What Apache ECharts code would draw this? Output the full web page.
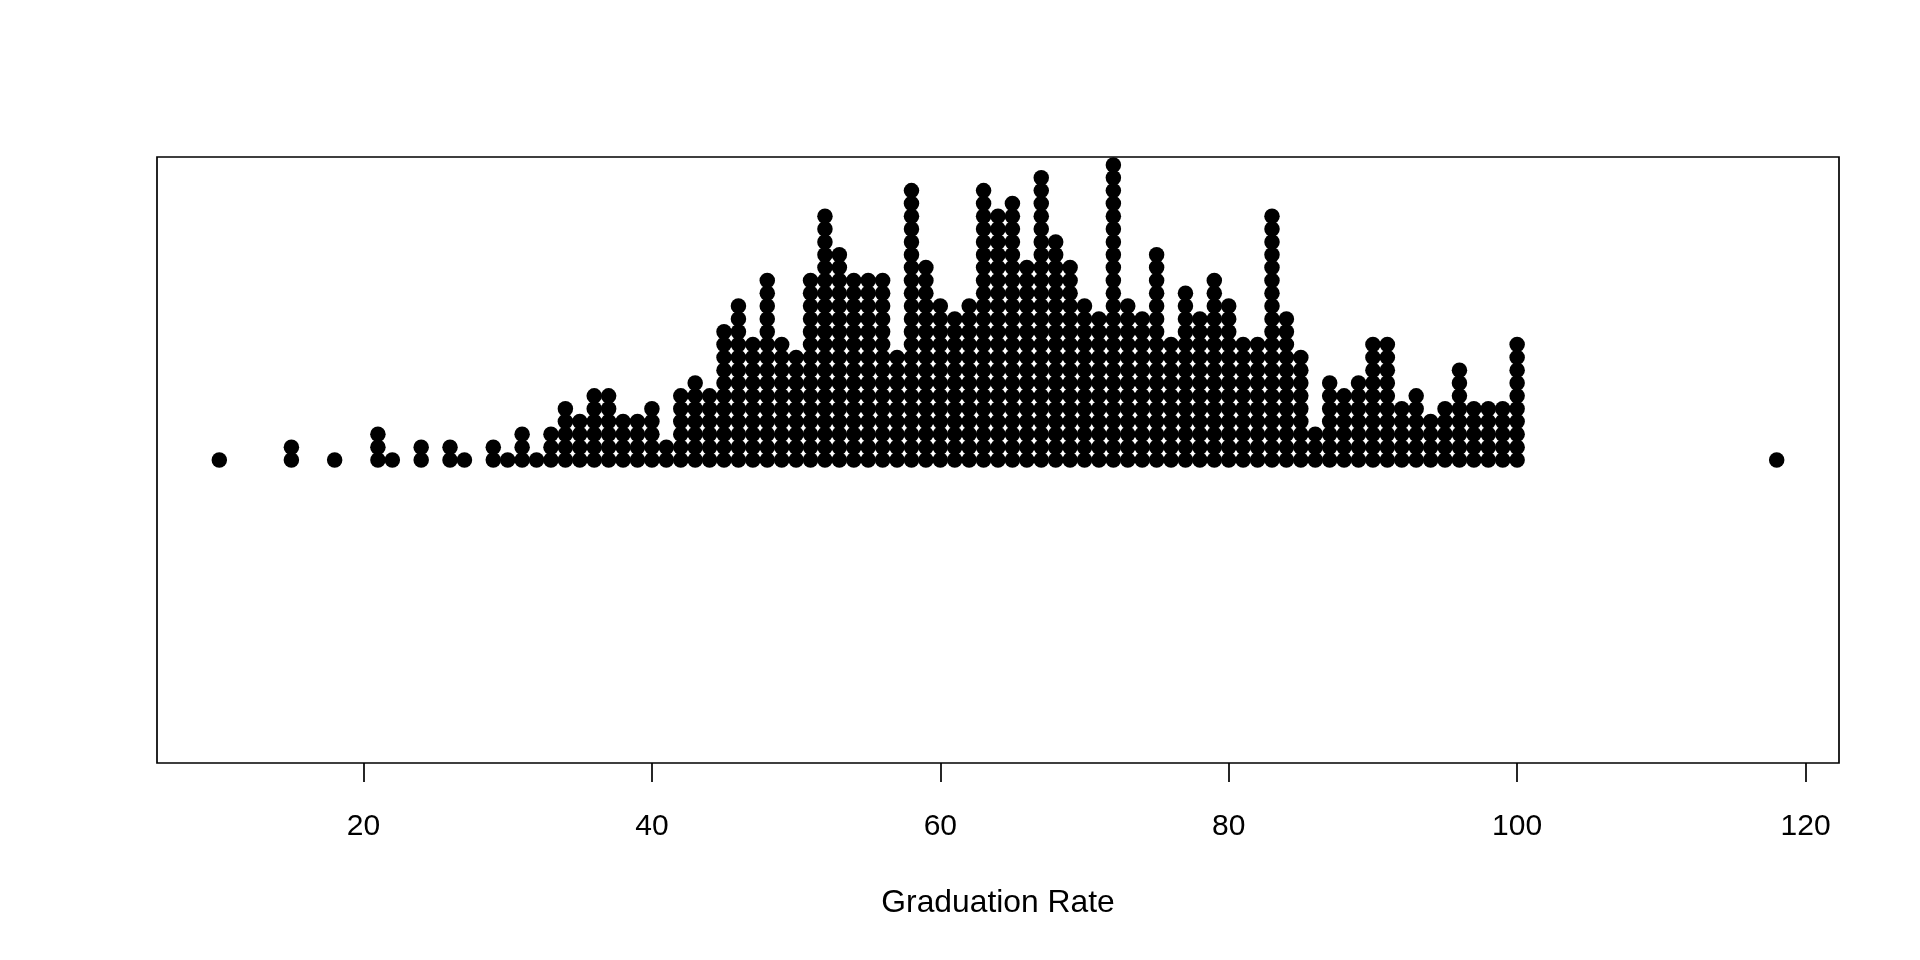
<!DOCTYPE html>
<html>
<head>
<meta charset="utf-8">
<title>Graduation Rate</title>
<script src="https://cdn.jsdelivr.net/npm/echarts@6/dist/echarts.min.js"></script>
<style>
  html, body { margin: 0; padding: 0; background: #fff; }
  #chart { width: 1920px; height: 960px; }
</style>
</head>
<body>
<div id="chart"></div>
<script>
// graduation rate values and how many colleges sit on each one (stacked strip chart)
var rates  = [10, 15, 18, 21, 22, 24, 26, 27, 29, 30, 31, 32, 33, 34, 35, 36, 37, 38, 39, 40,
              41, 42, 43, 44, 45, 46, 47, 48, 49, 50, 51, 52, 53, 54, 55, 56, 57, 58, 59, 60,
              61, 62, 63, 64, 65, 66, 67, 68, 69, 70, 71, 72, 73, 74, 75, 76, 77, 78, 79, 80,
              81, 82, 83, 84, 85, 86, 87, 88, 89, 90, 91, 92, 93, 94, 95, 96, 97, 98, 99, 100,
              118];
var counts = [1, 2, 1, 3, 1, 2, 2, 1, 2, 1, 3, 1, 3, 5, 4, 6, 6, 4, 4, 5,
              2, 6, 7, 6, 11, 13, 10, 15, 10, 9, 15, 20, 17, 15, 15, 15, 9, 22, 16, 13,
              12, 13, 22, 20, 21, 16, 23, 18, 16, 13, 12, 24, 13, 12, 17, 10, 14, 12, 15, 13,
              10, 10, 20, 12, 9, 3, 7, 6, 7, 10, 10, 5, 6, 4, 5, 8, 5, 5, 5, 10,
              1];
var tickValues = [20, 40, 60, 80, 100, 120];

// one point per college, stacked upward from the baseline
var points = [];
for (var i = 0; i < rates.length; i++) {
  for (var k = 0; k < counts[i]; k++) {
    points.push([rates[i], k]);
  }
}

// R pads the data range by 4% on each side
var xPad = (118 - 10) * 0.04;
var yHalf = 23.62; // stack rows from baseline to the box edge

var chart = echarts.init(document.getElementById('chart'));
chart.setOption({
  animation: false,
  backgroundColor: '#ffffff',
  textStyle: { fontFamily: 'Liberation Sans, Arial, sans-serif' },
  grid: {
    left: 157, right: 81, top: 157, bottom: 197,
    show: true, borderColor: '#000', borderWidth: 1.7, backgroundColor: 'transparent'
  },
  xAxis: {
    type: 'value',
    min: 10 - xPad,
    max: 118 + xPad,
    name: 'Graduation Rate',
    nameLocation: 'middle',
    nameGap: 124,
    nameTextStyle: { color: '#000', fontSize: 31.8, fontFamily: 'Liberation Sans, Arial, sans-serif' },
    axisLine: { show: false, onZero: false },
    axisTick: {
      show: true, inside: false, length: 19, customValues: tickValues,
      lineStyle: { color: '#000', width: 1.7 }
    },
    axisLabel: {
      show: true, margin: 49, customValues: tickValues,
      color: '#000', fontSize: 30, fontFamily: 'Liberation Sans, Arial, sans-serif'
    },
    splitLine: { show: false }
  },
  yAxis: {
    type: 'value',
    min: -yHalf,
    max: yHalf,
    show: false,
    splitLine: { show: false }
  },
  series: [{
    type: 'scatter',
    data: points,
    symbol: 'circle',
    symbolSize: 15.5,
    itemStyle: { color: '#000', opacity: 1 },
    silent: true
  }]
});
</script>
</body>
</html>
